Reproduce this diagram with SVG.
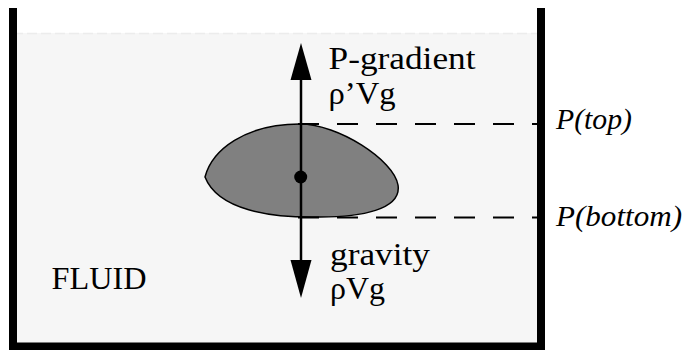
<svg xmlns="http://www.w3.org/2000/svg" width="687" height="350" viewBox="0 0 687 350">
<style>
text{font-family:'Liberation Serif','Times New Roman',serif;fill:#000}
.lbl{font-size:32px}
.ital{font-size:30px;font-style:italic}
.dash{stroke:#000;stroke-width:2.2;stroke-dasharray:21 18;fill:none}
</style>
<rect width="687" height="350" fill="#ffffff"/>
<g id="fluid">
<rect x="13" y="33" width="528" height="314" fill="#f6f6f6"/>
<line x1="13" y1="33.5" x2="541" y2="33.5" stroke="#ececec" stroke-width="1.5" stroke-dasharray="10 4"/>
<text class="lbl" x="51.5" y="288.5" textLength="95" lengthAdjust="spacingAndGlyphs">FLUID</text>
</g>
<g id="container">
<path d="M13,8 V346.5 H541 V8" fill="none" stroke="#000" stroke-width="8"/>
</g>
<g id="object">
<path d="M205,177 C212,150 245,124 300,124 C338,124 394,160 398,185 C402,210 360,217 320,217 C270,218 218,210 205,177 Z" fill="#808080" stroke="#000" stroke-width="1.5"/>
</g>
<g id="connectors">
<line class="dash" x1="298" y1="124" x2="540" y2="124"/>
<line class="dash" x1="298" y1="217.5" x2="540" y2="217.5"/>
<line x1="301" y1="75" x2="301" y2="265" stroke="#000" stroke-width="2.5"/>
<polygon points="301,43 290.5,80 311.5,80" fill="#000"/>
<polygon points="301,298 290.5,260 311.5,260" fill="#000"/>
<circle cx="300.7" cy="177" r="6.5" fill="#000"/>
</g>
<g id="label-pgradient">
<text class="lbl" x="328.5" y="68.5" textLength="147" lengthAdjust="spacingAndGlyphs">P-gradient</text>
<text class="lbl" x="328.5" y="103.5" textLength="67" lengthAdjust="spacingAndGlyphs">ρ’Vg</text>
</g>
<g id="label-gravity">
<text class="lbl" x="330" y="264.5" textLength="100" lengthAdjust="spacingAndGlyphs">gravity</text>
<text class="lbl" x="330" y="298.5" textLength="55" lengthAdjust="spacingAndGlyphs">ρVg</text>
</g>
<g id="label-ptop">
<text class="ital" x="556" y="128.5" textLength="76" lengthAdjust="spacingAndGlyphs">P(top)</text>
</g>
<g id="label-pbottom">
<text class="ital" x="556" y="225.5" textLength="126" lengthAdjust="spacingAndGlyphs">P(bottom)</text>
</g>
</svg>
